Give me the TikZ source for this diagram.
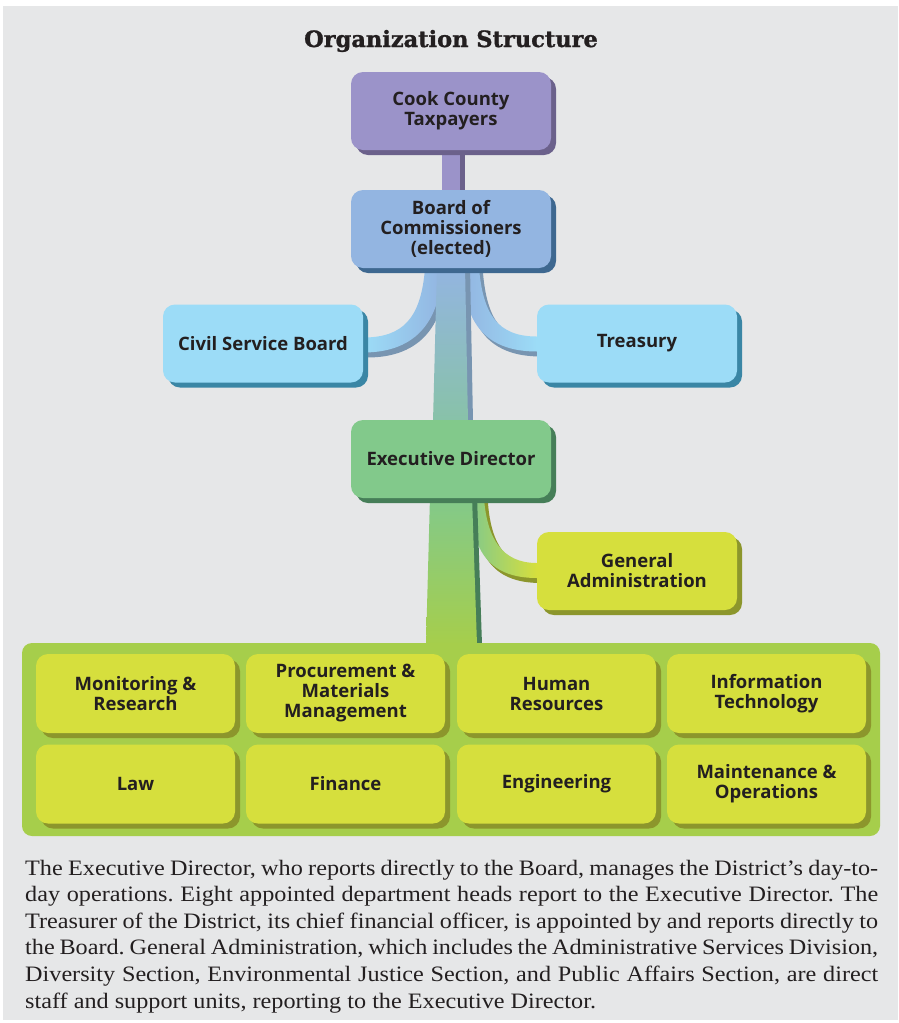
\documentclass[tikz,border=0pt]{standalone}
\usepackage{fontspec}
\setmainfont{Liberation Serif}
\setsansfont{Open Sans}
\newfontfamily\titlefont{DejaVu Serif}[BoldFeatures={FakeBold=1.2}]
\newfontfamily\notefont{Liberation Serif}[FakeStretch=1.1]
\usetikzlibrary{calc,shadows}

\definecolor{paper}{HTML}{E6E7E8}
\definecolor{ink}{HTML}{231F20}
\definecolor{taxfill}{HTML}{9B93C9}
\definecolor{taxshade}{HTML}{6B618B}
\definecolor{boardfill}{HTML}{93B5E1}
\definecolor{boardshade}{HTML}{3E6890}
\definecolor{sidefill}{HTML}{9CDCF7}
\definecolor{sideshade}{HTML}{3A86A5}
\definecolor{execfill}{HTML}{82C98B}
\definecolor{execshade}{HTML}{467E58}
\definecolor{deptfill}{HTML}{D6DF3D}
\definecolor{deptshade}{HTML}{8C962C}
\definecolor{panelfill}{HTML}{A6CE4B}
\definecolor{trunkmid}{HTML}{88C2A8}

\pgfdeclarelayer{bottom}
\pgfdeclarelayer{links}
\pgfsetlayers{bottom,links,main}

\begin{document}
\begin{tikzpicture}[x=1pt, y=-1pt,
        every node/.style = {font=\sffamily\bfseries\fontsize{18.5}{20}\selectfont, text=ink},
        unit/.style 2 args = {fill=#1, rounded corners=12pt, align=center,
          minimum width=200pt, minimum height=78pt, inner sep=2pt,
          general shadow={fill=#2, shadow xshift=5pt, shadow yshift=-5pt}},
        dept/.style = {unit={deptfill}{deptshade}, minimum width=199pt, minimum height=79pt},
        ribbon/.style n args = {3}{left color=#1, right color=#2,
          general shadow={fill=#3, shadow xshift=4pt, shadow yshift=-5pt}}]
  \useasboundingbox (0,0) rectangle (898,1023);
  \begin{pgfonlayer}{bottom}
    \fill[paper] (3,6) rectangle (898,1020);
  \end{pgfonlayer}

  \node[anchor=base, font=\titlefont\bfseries\fontsize{22.5}{22.5}\selectfont] (title) at (451,47)
    {Organization Structure};

  % governance
  \node[unit={taxfill}{taxshade}] (tax) at (451,111) {Cook County\\Taxpayers};
  \node[unit={boardfill}{boardshade}] (board) at (451,229) {Board of\\Commissioners\\(elected)};
  \node[unit={sidefill}{sideshade}] (csb) at (263,343.5) {Civil Service Board};
  \node[unit={sidefill}{sideshade}] (treas) at (637,343.5) {Treasury};
  \node[unit={execfill}{execshade}] (exec) at (451,459) {Executive Director};
  \node[unit={deptfill}{deptshade}] (ga) at (637,571) {General\\Administration};

  % departments
  \node[fill=panelfill, rounded corners=10pt, minimum width=858pt, minimum height=193pt] (panel) at (451,739.5) {};
  \node[dept] (mon) at (135.5,693.5) {Monitoring \&\\Research};
  \node[dept] (proc) at (345.5,693.5) {Procurement \&\\Materials\\Management};
  \node[dept] (hr) at (556.5,693.5) {Human\\Resources};
  \node[dept] (it) at (766.5,693.5) {Information\\Technology};
  \node[dept] (law) at (135.5,784) {Law};
  \node[dept] (fin) at (345.5,784) {Finance};
  \node[dept] (eng) at (556.5,784) {Engineering};
  \node[dept] (mo) at (766.5,784) {Maintenance \&\\Operations};

  \begin{pgfonlayer}{links}
    \fill[taxfill, general shadow={fill=taxshade, shadow xshift=5pt}]
      ($(tax.south)+(-9,-2)$) rectangle ($(board.north)+(9,2)$);
    \path[ribbon={sidefill}{boardfill}{boardshade!70}]
      ($(board.south)+(-26,0)$) .. controls ($(board.south)+(-30,50)$) and ($(csb.east)+(40,-6)$) .. ($(csb.east)+(0,-6)$)
      -- ($(csb.east)+(0,9)$) .. controls ($(csb.east)+(55,9)$) and ($(board.south)+(-10,50)$) .. ($(board.south)+(-9,0)$) -- cycle;
    \path[ribbon={boardfill}{sidefill}{boardshade!70}]
      ($(board.south)+(28,0)$) .. controls ($(board.south)+(32,45)$) and ($(treas.west)+(-40,-7)$) .. ($(treas.west)+(0,-7)$)
      -- ($(treas.west)+(0,8)$) .. controls ($(treas.west)+(-55,8)$) and ($(board.south)+(12,50)$) .. ($(board.south)+(12,0)$) -- cycle;
    \path[top color=boardfill, bottom color=trunkmid, general shadow={fill=boardshade!70, shadow xshift=5pt}]
      ($(board.south)+(-14,-2)$) -- ($(board.south)+(14,-2)$) -- ($(exec.north)+(17,2)$) -- ($(exec.north)+(-18,2)$) -- cycle;
    \path[ribbon={execfill}{deptfill}{deptshade}]
      ($(exec.south)+(33,0)$) .. controls ($(exec.south)+(36,40)$) and ($(ga.west)+(-35,-8)$) .. ($(ga.west)+(0,-8)$)
      -- ($(ga.west)+(0,7)$) .. controls ($(ga.west)+(-50,7)$) and ($(exec.south)+(20,50)$) .. ($(exec.south)+(19,0)$) -- cycle;
    \path[top color=execfill, bottom color=panelfill, general shadow={fill=execshade, shadow xshift=5pt}]
      ($(exec.south)+(-21,-2)$) -- ($(exec.south)+(21,-2)$) -- ($(panel.north)+(26,2)$) -- ($(panel.north)+(-25,2)$) -- cycle;
  \end{pgfonlayer}

  \node[anchor=base west, inner sep=0pt, font=\notefont\fontsize{22}{26.6}\selectfont] (note) at (25,875)
    {\parbox[t]{853pt}{\frenchspacing\tolerance=9999\hyphenpenalty=10000
    The Executive Director, who reports directly to the Board, manages the District’s day-to-\linebreak
    day operations. Eight appointed department heads report to the Executive Director. The\linebreak
    Treasurer of the District, its chief financial officer, is appointed by and reports directly to\linebreak
    the Board. General Administration, which includes the Administrative Services Division,\linebreak
    Diversity Section, Environmental Justice Section, and Public Affairs Section, are direct\linebreak
    staff and support units, reporting to the Executive Director.}};
\end{tikzpicture}
\end{document}
